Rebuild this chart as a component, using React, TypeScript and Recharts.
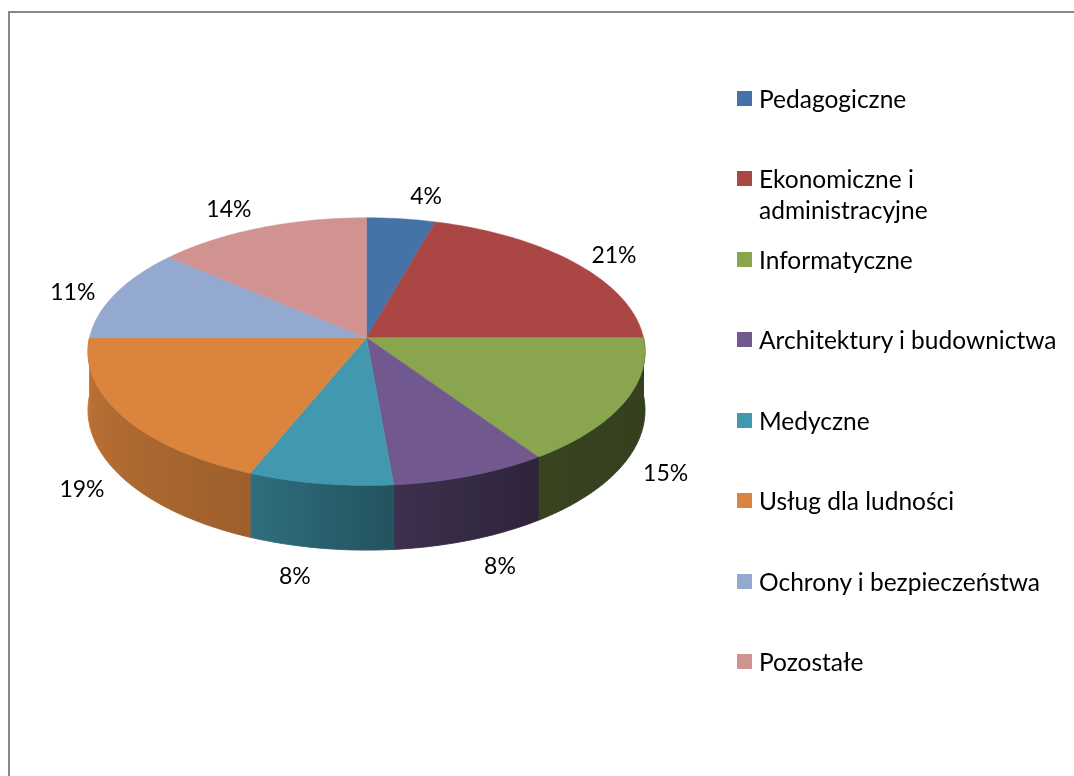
import React from "react";
import { PieChart, Pie, Cell, Legend } from "recharts";

const categories = [
  "Pedagogiczne",
  "Ekonomiczne i administracyjne",
  "Informatyczne",
  "Architektury i budownictwa",
  "Medyczne",
  "Usług dla ludności",
  "Ochrony i bezpieczeństwa",
  "Pozostałe",
];
// shares (labels show them rounded)
const shares = [4.4, 20.6, 15.4, 8.2, 7.6, 18.8, 11.2, 13.8];
const colors = ["#4572A7", "#AA4643", "#89A54E", "#71588F", "#4198AF", "#DB843D", "#93A9CF", "#D19392"];

const data = categories.map((name, i) => ({ name, value: shares[i] }));

const FONT = "Lato, 'Open Sans', sans-serif";

// fake 3D: squash the disc, make the front a bit bigger, add a side wall
const TILT = 0.478;
const PERSP = 0.104;
const DEPTH = 0.209;

// light on the side wall, by angle (clockwise from 12 o'clock)
const WALL_LIGHT: [number, number][] = [
  [90, 0.38],
  [144, 0.4],
  [172.8, 0.53],
  [201.6, 0.72],
  [270, 0.88],
];

function lightAt(theta: number) {
  for (let i = 1; i < WALL_LIGHT.length; i++) {
    const [a0, m0] = WALL_LIGHT[i - 1];
    const [a1, m1] = WALL_LIGHT[i];
    if (theta <= a1) return m0 + ((theta - a0) / (a1 - a0)) * (m1 - m0);
  }
  return WALL_LIGHT[WALL_LIGHT.length - 1][1];
}

function shade(hex: string, m: number) {
  const n = parseInt(hex.slice(1), 16);
  const r = Math.round(((n >> 16) & 255) * m);
  const g = Math.round(((n >> 8) & 255) * m);
  const b = Math.round((n & 255) * m);
  return `rgb(${r},${g},${b})`;
}

function proj(cx: number, cy: number, r: number, theta: number, down: number) {
  const rad = (theta * Math.PI) / 180;
  const u = Math.sin(rad);
  const v = -Math.cos(rad);
  const p = 1 / (1 - PERSP * v);
  return [cx + r * u * p, cy + r * TILT * v * p + down * p];
}

const renderSlice = (props: any) => {
  const { cx, cy, outerRadius, startAngle, endAngle, index, percent } = props;
  const color = colors[index];
  const t1 = 90 - startAngle;
  const t2 = 90 - endAngle;
  const depth = outerRadius * DEPTH;

  // top face
  const steps = Math.max(2, Math.ceil(t2 - t1));
  let top = `M${cx},${cy}`;
  for (let s = 0; s <= steps; s++) {
    const [x, y] = proj(cx, cy, outerRadius, t1 + ((t2 - t1) * s) / steps, 0);
    top += ` L${x.toFixed(2)},${y.toFixed(2)}`;
  }
  top += " Z";

  // side wall, only the front half shows
  let wall: React.ReactNode = null;
  const w1 = Math.max(t1, 90);
  const w2 = Math.min(t2, 270);
  if (w2 > w1) {
    const n = Math.max(2, Math.ceil(w2 - w1));
    const upper: string[] = [];
    const lower: string[] = [];
    for (let s = 0; s <= n; s++) {
      const a = w1 + ((w2 - w1) * s) / n;
      const [x1, y1] = proj(cx, cy, outerRadius, a, 0);
      const [x2, y2] = proj(cx, cy, outerRadius, a, depth);
      upper.push(`${x1.toFixed(2)},${y1.toFixed(2)}`);
      lower.unshift(`${x2.toFixed(2)},${y2.toFixed(2)}`);
    }
    const d = `M${upper.join(" L")} L${lower.join(" L")} Z`;
    const xa = proj(cx, cy, outerRadius, w1, 0)[0];
    const xb = proj(cx, cy, outerRadius, w2, 0)[0];
    const stops: React.ReactNode[] = [];
    const ns = 8;
    for (let s = 0; s <= ns; s++) {
      const a = w1 + ((w2 - w1) * s) / ns;
      const x = proj(cx, cy, outerRadius, a, 0)[0];
      const off = Math.min(1, Math.max(0, (x - xa) / (xb - xa || 1)));
      stops.push(<stop key={s} offset={off} stopColor={shade(color, lightAt(a))} />);
    }
    const id = `wall-${index}`;
    wall = (
      <g>
        <defs>
          <linearGradient id={id} gradientUnits="userSpaceOnUse" x1={xa} y1={0} x2={xb} y2={0}>
            {stops}
          </linearGradient>
        </defs>
        <path d={d} fill={`url(#${id})`} stroke={`url(#${id})`} strokeWidth={0.9} strokeLinejoin="round" />
      </g>
    );
  }

  // data label just outside the edge
  const mid = (t1 + t2) / 2;
  const rad = (mid * Math.PI) / 180;
  const u = Math.sin(rad);
  const v = -Math.cos(rad);
  const [ex, ey] = proj(cx, cy, outerRadius, mid, v > 0 ? depth : 0);
  const lx = ex + Math.sign(u) * (22 + 22 * Math.abs(u));
  const ly = ey + 24 * v * Math.abs(v) + (v > 0 ? 3.5 : 0);

  return (
    <g key={`slice-${index}`}>
      {wall}
      <path d={top} fill={color} stroke={color} strokeWidth={0.5} />
      <text
        x={lx}
        y={ly}
        textAnchor="middle"
        dominantBaseline="central"
        fill="#000"
        fontSize={23}
        fontFamily={FONT}
      >
        {`${Math.round(percent * 100)}%`}
      </text>
    </g>
  );
};

const renderLegend = () => (
  <div style={{ position: "relative", width: 330, height: 700, fontFamily: FONT, color: "#000" }}>
    {categories.map((name, i) => (
      <div
        key={name}
        style={{
          position: "absolute",
          left: 0,
          top: 90 + 80.5 * i - 15.5,
          display: "flex",
          alignItems: "flex-start",
        }}
      >
        <span
          style={{ width: 15, height: 15, background: colors[i], marginTop: 8, marginRight: 7, flex: "none" }}
        />
        <span style={{ fontSize: 24.5, lineHeight: "31px", width: 302 }}>{name}</span>
      </div>
    ))}
  </div>
);

export default function App() {
  return (
    <div style={{ position: "relative", width: 1058, height: 760, background: "#fff" }}>
      <div
        style={{
          position: "fixed",
          left: 8,
          top: 11,
          right: 0,
          bottom: 0,
          borderLeft: "2px solid #878787",
          borderTop: "2px solid #878787",
          pointerEvents: "none",
        }}
      />
      <PieChart width={1058} height={760} margin={{ top: 0, right: 0, bottom: 0, left: 0 }}>
        <Pie
          data={data}
          dataKey="value"
          nameKey="name"
          cx={358.5}
          cy={329.7}
          outerRadius={277}
          startAngle={90}
          endAngle={-270}
          stroke="none"
          labelLine={false}
          label={renderSlice}
          isAnimationActive={false}
        >
          {data.map((d) => (
            <Cell key={d.name} fill="none" />
          ))}
        </Pie>
        <Legend
          layout="vertical"
          align="right"
          verticalAlign="top"
          content={renderLegend}
          wrapperStyle={{ left: 729, top: 0, right: "auto", width: 330 }}
        />
      </PieChart>
    </div>
  );
}
